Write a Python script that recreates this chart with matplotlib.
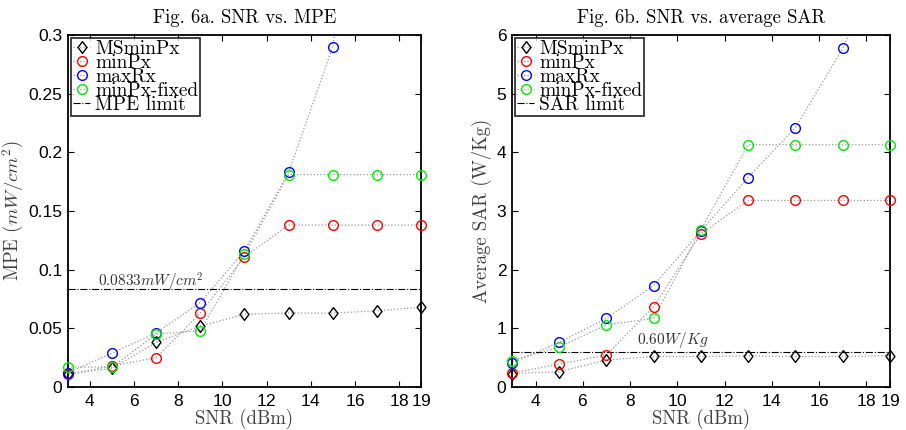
import matplotlib
matplotlib.use("Agg")
import matplotlib.pyplot as plt
from matplotlib.lines import Line2D

plt.rcParams['font.family'] = 'cmr10'
plt.rcParams['mathtext.fontset'] = 'cm'
plt.rcParams['axes.formatter.use_mathtext'] = True

snr = [3, 5, 7, 9, 11, 13, 15, 17, 19]
xticks = [4, 6, 8, 10, 12, 14, 16, 18, 19]

# MPE (mW/cm^2)
mpe_msminpx = [0.011, 0.016, 0.038, 0.052, 0.062, 0.063, 0.063, 0.065, 0.068]
mpe_minpx = [0.011, 0.018, 0.025, 0.063, 0.111, 0.138, 0.138, 0.138, 0.138]
mpe_maxrx = [0.012, 0.029, 0.046, 0.072, 0.116, 0.183, 0.290, 0.55, 1.0]
mpe_fixed = [0.017, 0.017, 0.045, 0.048, 0.113, 0.181, 0.181, 0.181, 0.181]
mpe_limit = 0.0833

# average SAR (W/Kg)
sar_msminpx = [0.23, 0.26, 0.46, 0.52, 0.52, 0.53, 0.52, 0.52, 0.535]
sar_minpx = [0.24, 0.39, 0.545, 1.37, 2.61, 3.18, 3.18, 3.18, 3.18]
sar_maxrx = [0.41, 0.76, 1.17, 1.73, 2.66, 3.57, 4.42, 5.77, 7.5]
sar_fixed = [0.45, 0.68, 1.06, 1.17, 2.68, 4.13, 4.13, 4.13, 4.13]
sar_limit = 0.60

labels = ['MSminPx', 'minPx', 'maxRx', 'minPx-fixed']
diamond = [(0, 1), (0.75, 0), (0, -1), (-0.75, 0), (0, 1)]
markers = [diamond, 'o', 'o', 'o']
sizes = [8.5, 7, 7, 7]
colors = ['k', 'r', 'b', '#00ee00']
line_grey = '0.6'

fig = plt.figure(figsize=(9.06, 4.3), dpi=100)
ax1 = fig.add_axes([0.075, 0.1, 0.3897, 0.8186])
ax2 = fig.add_axes([0.565, 0.1, 0.4172, 0.8186])


def draw(ax, series, limit, limit_name, limit_text, text_xy, ylim, yticks, yticklabels):
    handles = []
    for vals, lab, m, ms, c in zip(series, labels, markers, sizes, colors):
        ax.plot(snr, vals, linestyle=':', color=line_grey, linewidth=0.9)
        # markers inside the y range, drawn unclipped so edge points show whole
        xs = [x for x, v in zip(snr, vals) if ylim[0] <= v <= ylim[1]]
        ys = [v for v in vals if ylim[0] <= v <= ylim[1]]
        ax.plot(xs, ys, linestyle='none', marker=m, markersize=ms,
                markerfacecolor='none', markeredgecolor=c, markeredgewidth=1.0,
                clip_on=False, zorder=3)
        handles.append(Line2D([], [], linestyle=':', color=line_grey, linewidth=0.9,
                              marker=m, markersize=ms, markerfacecolor='none',
                              markeredgecolor=c, markeredgewidth=1.0, label=lab))
    lim = ax.axhline(limit, color='k', linestyle='-.', linewidth=0.8, label=limit_name)
    handles.append(lim)
    ax.text(text_xy[0], text_xy[1], limit_text, fontsize=11, color='0.2', va='baseline')
    ax.set_xlim(3, 19)
    ax.set_ylim(*ylim)
    ax.set_xticks(xticks)
    ax.set_yticks(yticks)
    ax.set_yticklabels(yticklabels)
    for lbl in ax.get_xticklabels() + ax.get_yticklabels():
        lbl.set_fontfamily('Liberation Sans')
        lbl.set_fontsize(12.5)
    ax.tick_params(direction='in', top=True, right=True, length=4, width=0.8, pad=4)
    for sp in ax.spines.values():
        sp.set_linewidth(1.3)
    ax.set_xlabel('SNR (dBm)', fontsize=13.5, color='0.25', labelpad=0)
    leg = ax.legend(handles=handles, loc='upper left', fontsize=14, frameon=True,
                    fancybox=False, handlelength=0.9, handletextpad=0.25,
                    labelspacing=-0.2, borderpad=0.1, borderaxespad=0.15, numpoints=1)
    leg.get_frame().set_edgecolor('k')
    leg.get_frame().set_linewidth(1.3)
    return leg


draw(ax1, [mpe_msminpx, mpe_minpx, mpe_maxrx, mpe_fixed], mpe_limit, 'MPE limit',
     r'$0.0833mW/cm^2$', (4.35, 0.0855), (0, 0.3),
     [0, 0.05, 0.1, 0.15, 0.2, 0.25, 0.3], ['0', '0.05', '0.1', '0.15', '0.2', '0.25', '0.3'])
ax1.set_ylabel(r'MPE ($mW/cm^2$)', fontsize=13.5, color='0.25', labelpad=2)
ax1.set_title('Fig. 6a. SNR vs. MPE', fontsize=13.5, pad=9)

draw(ax2, [sar_msminpx, sar_minpx, sar_maxrx, sar_fixed], sar_limit, 'SAR limit',
     r'$0.60W/Kg$', (8.3, 0.74), (0, 6),
     [0, 1, 2, 3, 4, 5, 6], ['0', '1', '2', '3', '4', '5', '6'])
ax2.set_ylabel('Average SAR (W/Kg)', fontsize=13.5, color='0.25', labelpad=3)
ax2.set_title('Fig. 6b. SNR vs. average SAR', fontsize=13.5, pad=9)

fig.savefig('out.png', dpi=100)
